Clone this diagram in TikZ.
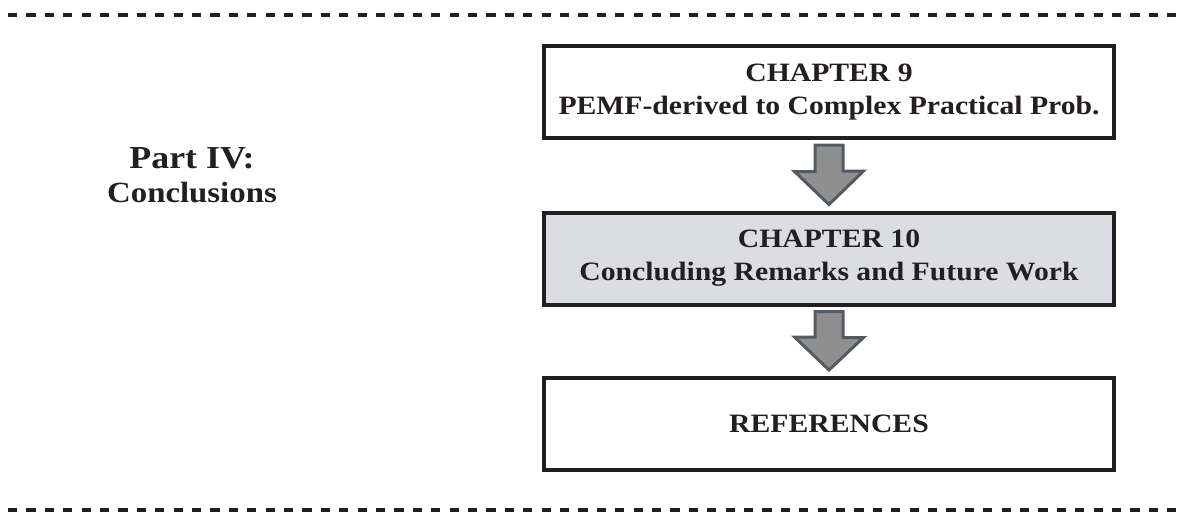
\documentclass[tikz,border=0pt]{standalone}
\usepackage{fontspec}
\setmainfont{Liberation Serif}[FakeStretch=1.12]
\usetikzlibrary{calc}
\definecolor{ink}{HTML}{231F20}
\definecolor{shade}{HTML}{DCDDE0}
\definecolor{arrowfill}{HTML}{8F8F8F}
\definecolor{arrowline}{HTML}{555A61}

\begin{document}
\begin{tikzpicture}[
    x=1pt, y=-1pt,
    chapbox/.style={draw=ink, line width=4pt, minimum width=570pt, minimum height=92pt, align=center, text=ink,
        font=\bfseries\fontsize{26.5}{33}\selectfont, inner sep=0pt},
    partlabel/.style={anchor=base, text=ink, inner sep=0pt},
    blockarrow/.style={draw=arrowline, fill=arrowfill, line width=3pt, line join=miter},
    sepline/.style={draw=ink, line width=4pt, dash pattern=on 9.2pt off 9.2pt}
]
\useasboundingbox (0,0) rectangle (1183,514);

% Separators
\draw[sepline] (8,15) -- (1177,15);
\draw[sepline] (8,510) -- (1177,510);

% Part title
\node[partlabel, font=\bfseries\fontsize{32}{37}\selectfont] (part) at (192,168) {Part IV:};
\node[partlabel, font=\bfseries\fontsize{29.3}{34}\selectfont] (partsub) at (192,202) {Conclusions};

% Chapters
\node[chapbox, fill=white] (ch9) at (829,92) {CHAPTER 9\\PEMF-derived to Complex Practical Prob.};
\node[chapbox, fill=shade] (ch10) at (829,258.5) {CHAPTER 10\\Concluding Remarks and Future Work};
\node[chapbox, fill=white] (refs) at (829,424) {REFERENCES};

% Block arrows between chapters
\foreach \from/\to in {ch9/ch10, ch10/refs} {
    \draw[blockarrow] ($(\from.south)+(-14,5)$) -- ++(28,0) -- ++(0,26) -- ++(20.5,0)
        -- ($(\to.north)+(0,-6)$) -- ++(-34.5,-33) -- ++(20.5,0) -- cycle;
}

\end{tikzpicture}
\end{document}
